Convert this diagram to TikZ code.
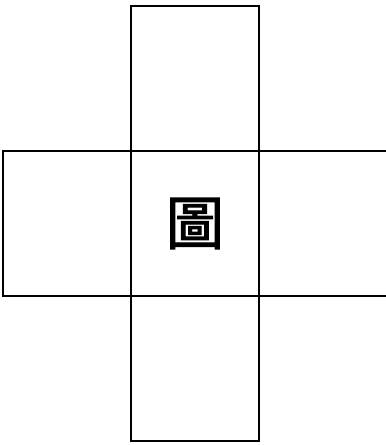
\documentclass[tikz,border=0pt]{standalone}
\usepackage{fontspec}
\newfontfamily\cjk{Noto Sans CJK TC}[FakeBold=2]
\usetikzlibrary{positioning}

\begin{document}
\begin{tikzpicture}[
    x=1pt, y=1pt,
    node distance=0pt,
    cell/.style={rectangle, draw=black, line width=1.6pt, outer sep=0pt, inner sep=0pt, minimum width=128pt, minimum height=145pt},
    glyph/.style={font=\cjk\fontsize{58}{60}\selectfont}
]
    % Page frame
    \useasboundingbox (0,0) rectangle (386,-445);
    \clip (0,0) rectangle (386,-445);

    % Centre cell with the character
    \node[cell, glyph] (centre) at (195,-223.5) {圖};

    % Arms of the cross
    \node[cell, above=of centre] (top) {};
    \node[cell, below=of centre] (bottom) {};
    \node[cell, left=of centre] (left) {};
    \node[cell, right=of centre] (right) {};
\end{tikzpicture}
\end{document}
